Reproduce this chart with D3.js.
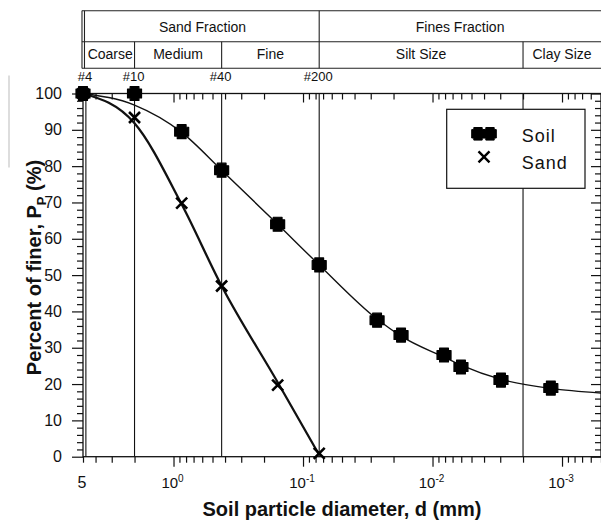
<!DOCTYPE html>
<html>
<head>
<meta charset="utf-8">
<script src="https://cdnjs.cloudflare.com/ajax/libs/d3/7.8.5/d3.min.js"></script>
<style>
    body { margin: 0; background: #fff; }
    #chart-area { width: 601px; height: 520px; }
    text { font-family: "Liberation Sans", Arial, sans-serif; fill: #111; }
</style>
</head>
<body>
<div id="chart-area"></div>
<script>
// grain size axis (mm), reversed log scale
const xDomain = [5, 0.0005];
const yDomain = [0, 100];

// sieve numbers shown above the plot
const sieveNames = ["#4", "#10", "#40", "#200"];
const sieveSizes = [4.75, 2.0, 0.425, 0.075];
const clayLimit = 0.002;

// header table
const fractionNames = ["Sand Fraction", "Fines Fraction"];
const fractionEdges = [4.75, 0.075, 0.0005];
const classNames = ["Coarse", "Medium", "Fine", "Silt Size", "Clay Size"];
const classEdges = [4.75, 2.0, 0.425, 0.075, 0.002, 0.0005];

// measured points
const soilD = [5, 2.0, 0.865, 0.425, 0.157, 0.075, 0.0268, 0.0175, 0.00815, 0.00603, 0.00296, 0.00122];
const soilP = [100, 100, 89.5, 78.9, 64, 52.8, 37.6, 33.5, 28.0, 24.7, 21.1, 18.9];
const sandD = [5, 2.0, 0.865, 0.425, 0.157, 0.075];
const sandP = [100, 93.4, 69.8, 47, 19.7, 0.9];

// fitted curves as drawn in the figure
const soilFitD = [5, 2.0, 0.865, 0.425, 0.157, 0.075, 0.0268, 0.0175, 0.00815, 0.00603, 0.00296, 0.00122, 0.0005];
const soilFitP = [100, 96.8, 89.3, 78.9, 64, 52.8, 37.9, 33.2, 27.4, 25.2, 21.3, 18.8, 17.5];
const sandFitD = [5, 2.0, 0.865, 0.425, 0.157, 0.075];
const sandFitP = [100, 91.8, 69.5, 47, 20.5, 0.5];

// tick labels
const xMajorTicks = [1, 0.1, 0.01, 0.001];
const xTickExp = ["0", "-1", "-2", "-3"];
const yMajorTicks = [0, 10, 20, 30, 40, 50, 60, 70, 80, 90, 100];
const yMinorTicks = [2, 4, 6, 8, 12, 14, 16, 18, 22, 24, 26, 28, 32, 34, 36, 38, 42, 44, 46, 48,
    52, 54, 56, 58, 62, 64, 66, 68, 72, 74, 76, 78, 82, 84, 86, 88, 92, 94, 96, 98];
const legendNames = ["Soil", "Sand"];

class GradationChart {

    constructor(_parentElement) {
        this.parentElement = _parentElement;
        this.initVis();
    }

    initVis() {
        let vis = this;

        vis.margin = {top: 93.5, right: 0, bottom: 63.3, left: 83};
        vis.width = 601 - vis.margin.left - vis.margin.right;
        vis.height = 520 - vis.margin.top - vis.margin.bottom;

        vis.root = d3.select("#" + vis.parentElement).append("svg")
            .attr("width", 601)
            .attr("height", 520);

        vis.svg = vis.root.append("g")
            .attr("transform", "translate(" + vis.margin.left + "," + vis.margin.top + ")");

        vis.x = d3.scaleLog().domain(xDomain).range([0, vis.width]);
        vis.y = d3.scaleLinear().domain(yDomain).range([vis.height, 0]);

        // faint border left over from the scanned figure
        vis.svg.append("line")
            .attr("x1", -74).attr("x2", -74)
            .attr("y1", -18).attr("y2", 74)
            .attr("stroke", "#bbb").attr("stroke-width", 1);

        vis.drawTable();
        vis.drawAxes();
        vis.drawSeries();
        vis.drawLegend();
        vis.drawTitles();
    }

    drawTable() {
        let vis = this;
        let top = -82.8, mid = -51.8, bottom = -25.2;
        let left = vis.x(fractionEdges[0]);
        let t = vis.svg.append("g").attr("stroke", "#222").attr("stroke-width", 1.1);

        [top, mid, bottom].forEach(yy => {
            t.append("line").attr("x1", left - 4).attr("x2", vis.width + 2).attr("y1", yy).attr("y2", yy);
        });
        // double line on the left edge
        [left - 3.9, left - 1.4].forEach(xx => {
            t.append("line").attr("x1", xx).attr("x2", xx).attr("y1", top).attr("y2", bottom);
        });
        t.append("line")
            .attr("x1", vis.x(fractionEdges[1])).attr("x2", vis.x(fractionEdges[1]))
            .attr("y1", top).attr("y2", bottom);
        [classEdges[1], classEdges[2], classEdges[4]].forEach(d => {
            t.append("line").attr("x1", vis.x(d)).attr("x2", vis.x(d)).attr("y1", mid).attr("y2", bottom);
        });

        vis.svg.selectAll(".fraction-label")
            .data(fractionNames)
            .enter().append("text")
            .attr("class", "fraction-label")
            .attr("x", (d, i) => (vis.x(fractionEdges[i]) + Math.min(vis.x(fractionEdges[i + 1]), vis.width)) / 2)
            .attr("y", -62)
            .attr("text-anchor", "middle")
            .style("font-size", "14px")
            .text(d => d);

        vis.svg.selectAll(".class-label")
            .data(classNames)
            .enter().append("text")
            .attr("class", "class-label")
            .attr("x", (d, i) => (vis.x(classEdges[i]) + vis.x(classEdges[i + 1])) / 2)
            .attr("y", -35)
            .attr("text-anchor", "middle")
            .style("font-size", "14px")
            .text(d => d);

        vis.svg.selectAll(".sieve-label")
            .data(sieveNames)
            .enter().append("text")
            .attr("class", "sieve-label")
            .attr("x", (d, i) => vis.x(sieveSizes[i]) - 1)
            .attr("y", -12.5)
            .attr("text-anchor", "middle")
            .style("font-size", "13px")
            .text(d => d);
    }

    drawAxes() {
        let vis = this;

        let minorX = vis.x.ticks().filter(d => xMajorTicks.indexOf(d) < 0);

        // plot frame
        vis.svg.append("rect")
            .attr("x", 0).attr("y", 0)
            .attr("width", vis.width).attr("height", vis.height)
            .attr("fill", "none").attr("stroke", "#111").attr("stroke-width", 1.3);

        // sieve / clay boundary lines
        sieveSizes.concat([clayLimit]).forEach(d => {
            vis.svg.append("line")
                .attr("x1", vis.x(d)).attr("x2", vis.x(d))
                .attr("y1", 0).attr("y2", vis.height)
                .attr("stroke", "#111").attr("stroke-width", 1.1);
        });

        let axes = [
            {axis: d3.axisBottom(vis.x).tickValues(minorX).tickSize(6), at: [0, vis.height]},
            {axis: d3.axisBottom(vis.x).tickValues(xMajorTicks).tickSize(10), at: [0, vis.height]},
            {axis: d3.axisTop(vis.x).tickValues(minorX).tickSize(-6), at: [0, 0]},
            {axis: d3.axisTop(vis.x).tickValues(xMajorTicks).tickSize(-9), at: [0, 0]},
            {axis: d3.axisLeft(vis.y).tickValues(yMinorTicks).tickSize(6), at: [0, 0]},
            {axis: d3.axisRight(vis.y).tickValues(yMinorTicks).tickSize(-6), at: [vis.width, 0]},
            {axis: d3.axisRight(vis.y).tickValues(yMajorTicks).tickSize(-10), at: [vis.width, 0]}
        ];
        axes.forEach(a => {
            let g = vis.svg.append("g")
                .attr("transform", "translate(" + a.at[0] + "," + a.at[1] + ")")
                .call(a.axis.tickFormat(""));
            g.select(".domain").remove();
            g.selectAll("line").attr("stroke", "#111").attr("stroke-width", 1.2);
        });

        // left axis with labels
        let yAxis = vis.svg.append("g")
            .call(d3.axisLeft(vis.y).tickValues(yMajorTicks).tickSize(11).tickPadding(10));
        yAxis.select(".domain").remove();
        yAxis.selectAll("line").attr("stroke", "#111").attr("stroke-width", 1.2);
        yAxis.selectAll("text")
            .style("font-family", "'Liberation Sans', Arial, sans-serif")
            .style("font-size", "16px")
            .attr("fill", "#222");

        // bottom labels, 5 then powers of ten
        vis.svg.append("text")
            .attr("x", vis.x(xDomain[0]) - 1)
            .attr("y", vis.height + 31.5)
            .attr("text-anchor", "middle")
            .style("font-size", "16px")
            .text("5");

        let lab = vis.svg.selectAll(".xlab")
            .data(xMajorTicks)
            .enter().append("text")
            .attr("class", "xlab")
            .attr("x", d => vis.x(d) - 1)
            .attr("y", vis.height + 31.5)
            .attr("text-anchor", "middle")
            .style("font-size", "15px");
        lab.append("tspan").text("10");
        lab.append("tspan")
            .attr("dy", -6)
            .style("font-size", "10px")
            .text((d, i) => xTickExp[i]);
    }

    drawSeries() {
        let vis = this;

        let line = d3.line()
            .x(d => vis.x(d[0]))
            .y(d => vis.y(d[1]))
            .curve(d3.curveMonotoneX);

        vis.svg.append("path")
            .datum(soilFitD.map((d, i) => [d, soilFitP[i]]))
            .attr("d", line)
            .attr("fill", "none").attr("stroke", "#111").attr("stroke-width", 1.4);

        vis.svg.append("path")
            .datum(sandFitD.map((d, i) => [d, sandFitP[i]]))
            .attr("d", line)
            .attr("fill", "none").attr("stroke", "#111").attr("stroke-width", 2.3);

        vis.svg.selectAll(".sand-mark")
            .data(sandD.map((d, i) => [d, sandP[i]]))
            .enter().append("path")
            .attr("class", "sand-mark")
            .attr("transform", d => "translate(" + vis.x(d[0]) + "," + vis.y(d[1]) + ")")
            .attr("d", vis.xMark(5.5))
            .attr("stroke", "#000").attr("stroke-width", 2.6).attr("fill", "none");

        vis.svg.selectAll(".soil-mark")
            .data(soilD.map((d, i) => [d, soilP[i]]))
            .enter().append("path")
            .attr("class", "soil-mark")
            .attr("transform", d => "translate(" + vis.x(d[0]) + "," + vis.y(d[1]) + ")")
            .attr("d", vis.plusMark(4.4, 7))
            .attr("fill", "#000").attr("stroke", "#000")
            .attr("stroke-width", 1.2).attr("stroke-linejoin", "round");
    }

    plusMark(a, b) {
        return "M" + (-a) + "," + (-b) + "L" + a + "," + (-b) + "L" + a + "," + (-a) + "L" + b + "," + (-a) +
            "L" + b + "," + a + "L" + a + "," + a + "L" + a + "," + b + "L" + (-a) + "," + b +
            "L" + (-a) + "," + a + "L" + (-b) + "," + a + "L" + (-b) + "," + (-a) + "L" + (-a) + "," + (-a) + "Z";
    }

    xMark(r) {
        return "M" + (-r) + "," + (-r) + "L" + r + "," + r + "M" + (-r) + "," + r + "L" + r + "," + (-r);
    }

    drawLegend() {
        let vis = this;
        let lg = vis.svg.append("g").attr("transform", "translate(363.7,15.8)");

        lg.append("rect")
            .attr("width", 138.3).attr("height", 79)
            .attr("fill", "#fff").attr("stroke", "#111").attr("stroke-width", 1.2);

        [-6, 6].forEach(dx => {
            lg.append("path")
                .attr("transform", "translate(" + (37.3 + dx) + ",24.5)")
                .attr("d", vis.plusMark(4.2, 6.3))
                .attr("fill", "#000").attr("stroke", "#000")
                .attr("stroke-width", 1).attr("stroke-linejoin", "round");
        });
        lg.append("path")
            .attr("transform", "translate(37.3,47.5)")
            .attr("d", vis.xMark(5.5))
            .attr("stroke", "#000").attr("stroke-width", 2.4).attr("fill", "none");

        lg.selectAll(".legend-label")
            .data(legendNames)
            .enter().append("text")
            .attr("class", "legend-label")
            .attr("x", 75)
            .attr("y", (d, i) => 32.3 + i * 27)
            .style("font-size", "18px")
            .style("letter-spacing", "1px")
            .text(d => d);
    }

    drawTitles() {
        let vis = this;

        vis.svg.append("text")
            .attr("x", vis.width / 2)
            .attr("y", vis.height + 59)
            .attr("text-anchor", "middle")
            .style("font-size", "20px")
            .style("font-weight", "bold")
            .text("Soil particle diameter, d (mm)");

        let yt = vis.svg.append("text")
            .attr("transform", "translate(-42,174) rotate(-90)")
            .attr("text-anchor", "middle")
            .style("font-size", "20px")
            .style("font-weight", "bold");
        yt.append("tspan").text("Percent of finer, P");
        yt.append("tspan").attr("dy", 5).style("font-size", "13px").text("P");
        yt.append("tspan").attr("dy", -5).text(" (%)");
    }
}

new GradationChart("chart-area");
</script>
</body>
</html>
